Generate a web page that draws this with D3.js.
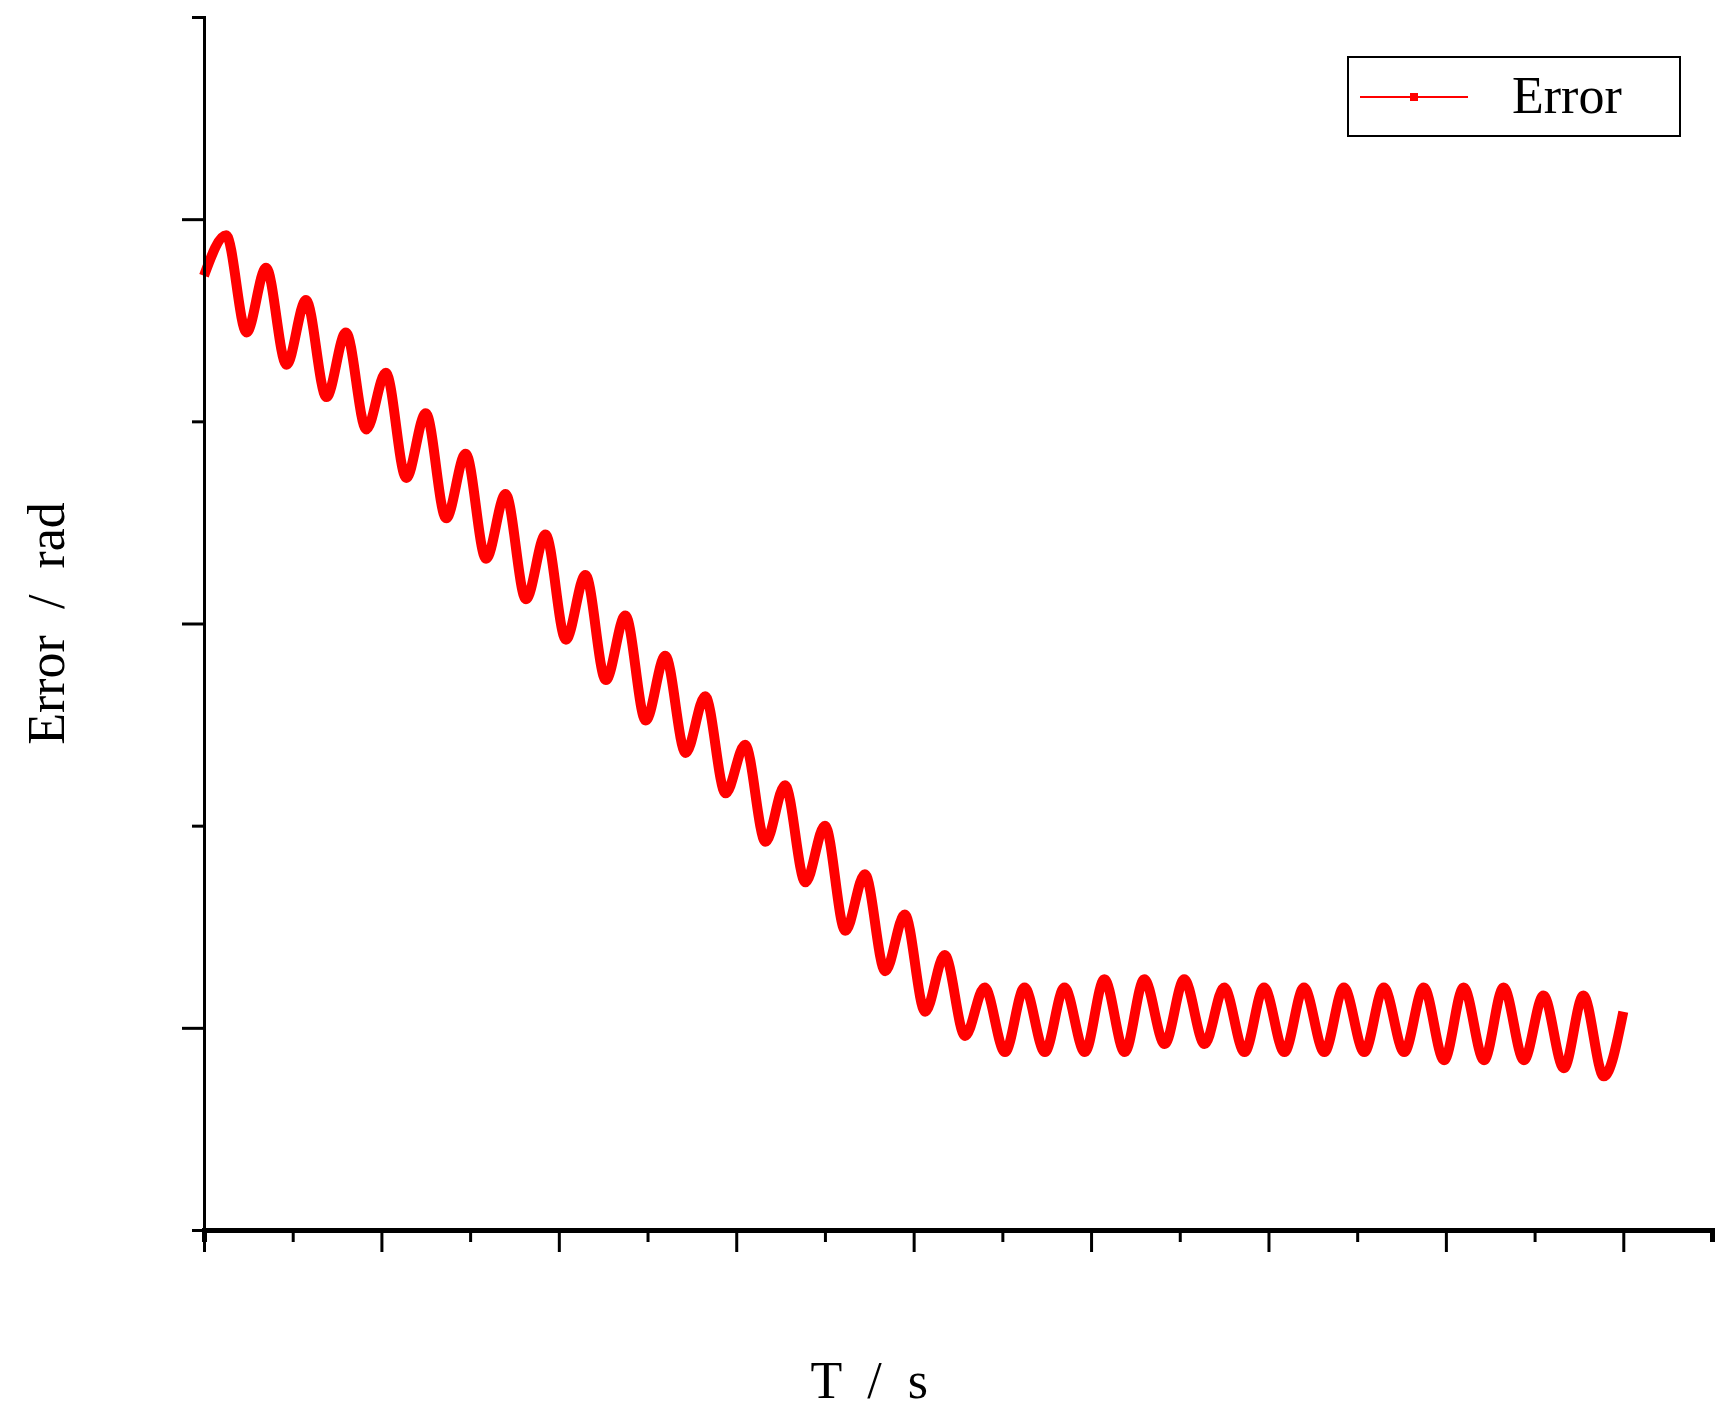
<!DOCTYPE html>
<html><head><meta charset="utf-8">
<script src="https://cdn.jsdelivr.net/npm/d3@7"></script>
<style>body{margin:0;background:#fff}</style>
</head><body>
<script>
const peakT = [2.5,7,11.5,16,20.5,25,29.5,34,38.5,43,47.5,52,56.5,61,65.5,70,74.5,79,83.5,88,92.5,97,101.5,106,110.5,115,119.5,124,128.5,133,137.5,142,146.5,151,155.5];
const peakV = [0.98,0.94,0.90,0.86,0.81,0.76,0.71,0.66,0.61,0.56,0.51,0.46,0.41,0.35,0.30,0.25,0.19,0.14,0.09,0.05,0.05,0.05,0.06,0.06,0.06,0.05,0.05,0.05,0.05,0.05,0.05,0.05,0.05,0.04,0.04];
const troughT = [4.8,9.3,13.8,18.3,22.8,27.3,31.8,36.3,40.8,45.3,49.8,54.3,58.8,63.3,67.8,72.3,76.8,81.3,85.8,90.3,94.8,99.3,103.8,108.3,112.8,117.3,121.8,126.3,130.8,135.3,139.8,144.3,148.8,153.3,157.8];
const troughV = [0.86,0.82,0.78,0.74,0.68,0.63,0.58,0.53,0.48,0.43,0.38,0.34,0.29,0.23,0.18,0.12,0.07,0.02,-0.01,-0.03,-0.03,-0.03,-0.03,-0.02,-0.02,-0.03,-0.03,-0.03,-0.03,-0.03,-0.04,-0.04,-0.04,-0.05,-0.06];
const startPt = [0, 0.93];
const endPt = [160, 0.02];
const xTicks = [0,20,40,60,80,100,120,140,160];
const yTicks = [0, 0.5, 1.0];

const W = 1724, H = 1416;
const m = {left: 204, top: 17, right: 12, bottom: 186};
const x = d3.scaleLinear().domain([0,170]).range([m.left, W - m.right]);
const y = d3.scaleLinear().domain([-0.25,1.25]).range([H - m.bottom, m.top]);

const pts = [startPt];
peakT.forEach((t,i) => { pts.push([t, peakV[i]]); pts.push([troughT[i], troughV[i]]); });
pts.push(endPt);

const svg = d3.select("body").append("svg").attr("width", W).attr("height", H)
  .style("font-family", "'Liberation Serif','DejaVu Serif',serif");

// line
svg.append("path").datum(pts)
  .attr("d", d3.line().x(d => x(d[0])).y(d => y(d[1])).curve(d3.curveMonotoneX))
  .attr("fill", "none").attr("stroke", "#ff0000").attr("stroke-width", 10)
  .attr("stroke-linejoin", "round");

// x axis
const xa = svg.append("g").attr("transform", `translate(0,${y(-0.25)})`);
xa.call(d3.axisBottom(x).tickValues(d3.range(0,171,10)).tickSize(12).tickFormat(""));
xa.call(g => g.selectAll(".tick line").filter(d => d % 20 === 0).attr("y2", 22));
xa.select(".domain").attr("stroke-width", 5);
xa.selectAll(".tick line").attr("stroke-width", 3);
xTicks.forEach(v => xa.append("text").attr("x", x(v)).attr("y", 78)
  .attr("text-anchor", "middle").attr("font-size", 42).text(v));

// y axis
const ya = svg.append("g").attr("transform", `translate(${m.left},0)`);
ya.call(d3.axisLeft(y).tickValues(d3.range(-0.25,1.26,0.25)).tickSize(12).tickFormat(""));
ya.call(g => g.selectAll(".tick line").filter(d => Math.abs(d*2 - Math.round(d*2)) < 1e-6).attr("x2", -22));
ya.select(".domain").attr("stroke-width", 3);
ya.selectAll(".tick line").attr("stroke-width", 3);
yTicks.forEach(v => ya.append("text").attr("x", -38).attr("y", y(v) + 14)
  .attr("text-anchor", "end").attr("font-size", 42).text(v.toFixed(1).replace(".", ". ")));

// axis titles
svg.append("text").attr("x", x(75)).attr("y", 1398).attr("text-anchor", "middle")
  .attr("font-size", 52).attr("xml:space", "preserve").text("T  /  s");
svg.append("text").attr("transform", `translate(64,${y(0.5)}) rotate(-90)`)
  .attr("text-anchor", "middle").attr("font-size", 52).attr("xml:space", "preserve").text("Error  /  rad");

// legend
const lg = svg.append("g").attr("transform", "translate(1348,57)");
lg.append("rect").attr("width", 332).attr("height", 79).attr("fill", "#fff").attr("stroke", "#000").attr("stroke-width", 2);
lg.append("line").attr("x1", 12).attr("x2", 120).attr("y1", 40).attr("y2", 40).attr("stroke", "#ff0000").attr("stroke-width", 2);
lg.append("rect").attr("x", 62).attr("y", 36).attr("width", 8).attr("height", 8).attr("fill", "#ff0000");
lg.append("text").attr("x", 164).attr("y", 56).attr("font-size", 52).text("Error");
</script>
</body></html>
